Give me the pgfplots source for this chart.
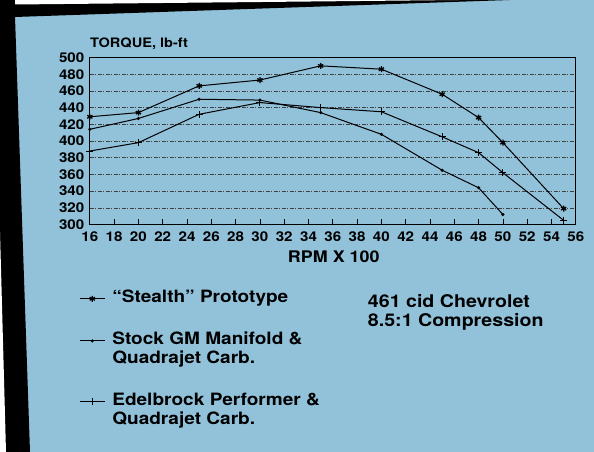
\documentclass[border=0pt]{standalone}
\usepackage{fontspec}
\setmainfont{TeX Gyre Heros}[FakeStretch=1.12]
\usepackage{pgfplots}
\pgfplotsset{compat=1.18}
\definecolor{bgblue}{HTML}{91C2DA}
\begin{document}
\begin{tikzpicture}[x=1pt,y=1pt]
\useasboundingbox (0,0) rectangle (594,452);
\fill[bgblue] (0,0) rectangle (594,452);
\fill[black] (0,452) -- (510,452) -- (15,435) -- (30,0) -- (0,0) -- cycle;
\fill[white] (15,452) -- (460,452) -- (15,447.5) -- cycle;
\fill[white] (0,0) -- (6,0) -- (0,220) -- cycle;
\begin{axis}[
  at={(89.8pt,227.5pt)}, anchor=south west,
  width=486pt, height=167pt, scale only axis,
  xmin=16, xmax=56, ymin=300, ymax=500,
  xtick={16,18,...,56}, ytick={300,320,...,500},
  xtick pos=left, xtick align=inside, major tick length=5pt,
  ytick style={draw=none},
  xtick style={black, line width=0.8pt},
  axis line style={black, line width=1.3pt},
  ymajorgrids,
  grid style={black!75, line width=0.5pt, dash pattern=on 4pt off 1.5pt on 1pt off 1.5pt},
  tick label style={font=\bfseries\fontsize{13.5}{13.5}\selectfont},
  /pgf/number format/assume math mode=true,
  xticklabel style={yshift=-4pt},
  yticklabel style={xshift=-2pt},
  clip=false,
  legend style={at={(axis description cs:-0.022,-0.38)}, anchor=north west,
    draw=none, fill=none, inner sep=0pt,
    font=\bfseries\fontsize{17}{19}\selectfont,
    cells={anchor=base west, align=left, inner sep=2pt},
    row sep=24pt, column sep=5pt},
  legend image code/.code={\draw[mark repeat=2,mark phase=2,#1] plot coordinates {(0pt,4pt)(12.5pt,4pt)(25pt,4pt)};},
]
\addplot[black, line width=1pt, mark=asterisk, mark size=3pt, mark options={line width=1.3pt}]
  coordinates {(16,429)(20,434)(25,466)(30,473)(35,490)(40,486)(45,456)(48,428)(50,398)(55,319)};
\addlegendentry{``Stealth'' Prototype}
\addplot[black, line width=1pt, mark=*, mark size=1pt, legend image post style={yshift=19pt}]
  coordinates {(16,414)(20,427)(25,450)(30,449)(35,434)(40,408)(45,365)(48,344)(50,312)};
\addlegendentry{Stock GM Manifold \&\\Quadrajet Carb.}
\addplot[black, line width=1pt, mark=+, mark size=3.5pt, mark options={line width=0.9pt}, legend image post style={yshift=19pt}]
  coordinates {(16,388)(20,398)(25,432)(30,446)(35,440)(40,435)(45,405)(48,386)(50,362)(55,305)};
\addlegendentry{Edelbrock Performer \&\\Quadrajet Carb.}
\node[anchor=base west, inner sep=0pt, font=\bfseries\fontsize{13}{13}\selectfont]
  at (axis description cs:0,1) [yshift=9.5pt] {TORQUE, lb-ft};
\node[anchor=center, inner sep=0pt, font=\bfseries\fontsize{16}{16}\selectfont]
  at (axis description cs:0.502,-0.195) {RPM X 100};
\node[anchor=base west, align=left, inner sep=0pt, font=\bfseries\fontsize{17.5}{19}\selectfont]
  at (axis description cs:0.572,-0.608) {461 cid Chevrolet\\8.5:1 Compression};
\end{axis}
\end{tikzpicture}
\end{document}
